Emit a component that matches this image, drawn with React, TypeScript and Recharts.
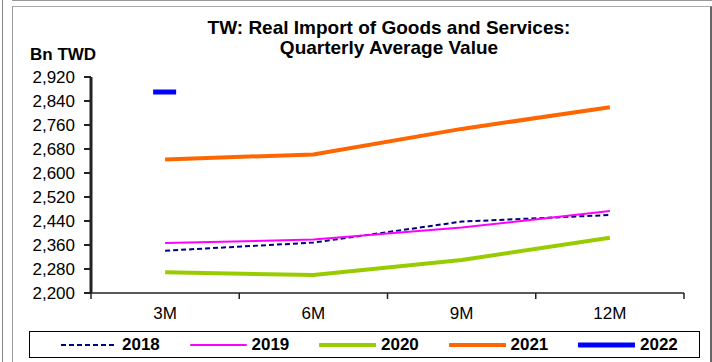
import { LineChart, Line, XAxis, YAxis, ReferenceLine } from 'recharts'

const periods = ['3M', '6M', '9M', '12M']
const years = ['2018', '2019', '2020', '2021', '2022']
const values2018 = [2341, 2368, 2438, 2460]
const values2019 = [2367, 2378, 2418, 2473]
const values2020 = [2269, 2260, 2310, 2384]
const values2021 = [2645, 2662, 2747, 2819]
const values2022 = [2870, null, null, null]
const yTicks = [2200, 2280, 2360, 2440, 2520, 2600, 2680, 2760, 2840, 2920]
const boundaryTicks = [0, 1, 2, 3, 4]

const seriesValues = [values2018, values2019, values2020, values2021, values2022]

const data = periods.map((p, i) => {
  const row: Record<string, string | number | null> = { period: p, idx: i + 0.5 }
  years.forEach((y, j) => {
    row[y] = seriesValues[j][i]
  })
  return row
})

const styles: Record<string, { color: string; width: number; dash?: string }> = {
  '2018': { color: '#000080', width: 2, dash: '5 3' },
  '2019': { color: '#ff00ff', width: 2 },
  '2020': { color: '#99cc00', width: 4 },
  '2021': { color: '#ff6600', width: 4 },
  '2022': { color: '#0000ff', width: 5 },
}

const font = 'Arial, "Liberation Sans", sans-serif'

const DashMarker = (props: any) => {
  const { cx, cy, value, index } = props
  if (value == null || cx == null || cy == null) return <g key={`m-${index}`} />
  return <line key={`m-${index}`} x1={cx - 12} x2={cx + 11} y1={cy} y2={cy} stroke="#0000ff" strokeWidth={5} />
}

// y label plus outside tick mark
const YTick = (props: any) => {
  const { x, y, payload } = props
  return (
    <g>
      <line x1={x + 9} x2={x + 16} y1={y} y2={y} stroke="#222" strokeWidth={2} />
      <text x={x} y={y} dy="0.36em" textAnchor="end" fontSize={17} fill="#000" fontFamily={font}>
        {Number(payload.value).toLocaleString('en-US')}
      </text>
    </g>
  )
}

// category boundary tick below the x axis
const XBoundTick = (props: any) => {
  const { x, y } = props
  return <line x1={x} x2={x} y1={y} y2={y + 6} stroke="#222" strokeWidth={1.5} />
}

export default function App() {
  return (
    <div style={{ position: 'absolute', left: 0, top: 0, width: 712, height: 362, background: '#fff', overflow: 'hidden', fontFamily: font }}>
      <div style={{ position: 'absolute', left: 2, top: 0, width: 1, height: 362, background: '#888' }} />
      <div style={{ position: 'absolute', left: 12, top: 0, width: 700, height: 1, background: '#999' }} />
      <div style={{ position: 'absolute', left: 12, top: 6, width: 697, height: 400, borderLeft: '1px solid #999', borderTop: '1px solid #aaa', borderRight: '2px solid #666' }} />

      <div style={{ position: 'absolute', left: 189, top: 18, width: 400, textAlign: 'center', fontWeight: 'bold', fontSize: 19, lineHeight: '20px', color: '#000' }}>
        TW: Real Import of Goods and Services:
        <br />
        Quarterly Average Value
      </div>
      <div style={{ position: 'absolute', left: 30, top: 46, fontWeight: 'bold', fontSize: 17, lineHeight: '17px', color: '#000' }}>
        Bn TWD
      </div>

      <div style={{ position: 'absolute', left: 0, top: 0 }}>
        <LineChart width={712} height={362} data={data} margin={{ top: 77, right: 28, left: 0, bottom: 0 }}>
          <XAxis
            xAxisId="a"
            dataKey="idx"
            type="number"
            domain={[0, 4]}
            ticks={boundaryTicks}
            interval={0}
            allowDataOverflow
            height={1}
            tickSize={0}
            tickMargin={0}
            axisLine={false}
            tickLine={false}
            tick={XBoundTick}
          />
          <XAxis
            xAxisId="b"
            dataKey="period"
            scale="band"
            axisLine={false}
            tickLine={false}
            height={68}
            tickMargin={7}
            interval={0}
            tick={{ fontSize: 17, fill: '#000', fontFamily: font }}
          />
          <YAxis
            domain={[2200, 2920]}
            ticks={yTicks}
            interval={0}
            width={91}
            tickSize={6}
            tickMargin={10}
            axisLine={{ stroke: '#222', strokeWidth: 3 }}
            tickLine={false}
            tick={YTick}
            allowDataOverflow
          />
          <ReferenceLine xAxisId="a" y={2200} stroke="#222" strokeWidth={1.5} />
          {years.slice(0, 4).map((y) => (
            <Line
              key={y}
              xAxisId="b"
              dataKey={y}
              type="linear"
              stroke={styles[y].color}
              strokeWidth={styles[y].width}
              strokeDasharray={styles[y].dash}
              dot={false}
              activeDot={false}
              isAnimationActive={false}
            />
          ))}
          <Line
            xAxisId="b"
            dataKey="2022"
            type="linear"
            stroke="#0000ff"
            strokeWidth={5}
            dot={DashMarker}
            activeDot={false}
            isAnimationActive={false}
          />
        </LineChart>
      </div>

      <div style={{ position: 'absolute', left: 29, top: 331, width: 669, height: 25, border: '1px solid #000', background: '#fff' }}>
        {years.map((y, i) => (
          <div key={y} style={{ position: 'absolute', left: 30 + i * 129.5, top: 0, height: 25, display: 'flex', alignItems: 'center' }}>
            <svg width={57} height={8}>
              <line x1={1} x2={56} y1={4} y2={4} stroke={styles[y].color} strokeWidth={styles[y].width} strokeDasharray={styles[y].dash} strokeLinecap={styles[y].dash ? 'butt' : 'round'} />
            </svg>
            <span style={{ marginLeft: 5, fontWeight: 'bold', fontSize: 17, color: '#000' }}>{y}</span>
          </div>
        ))}
      </div>
    </div>
  )
}
